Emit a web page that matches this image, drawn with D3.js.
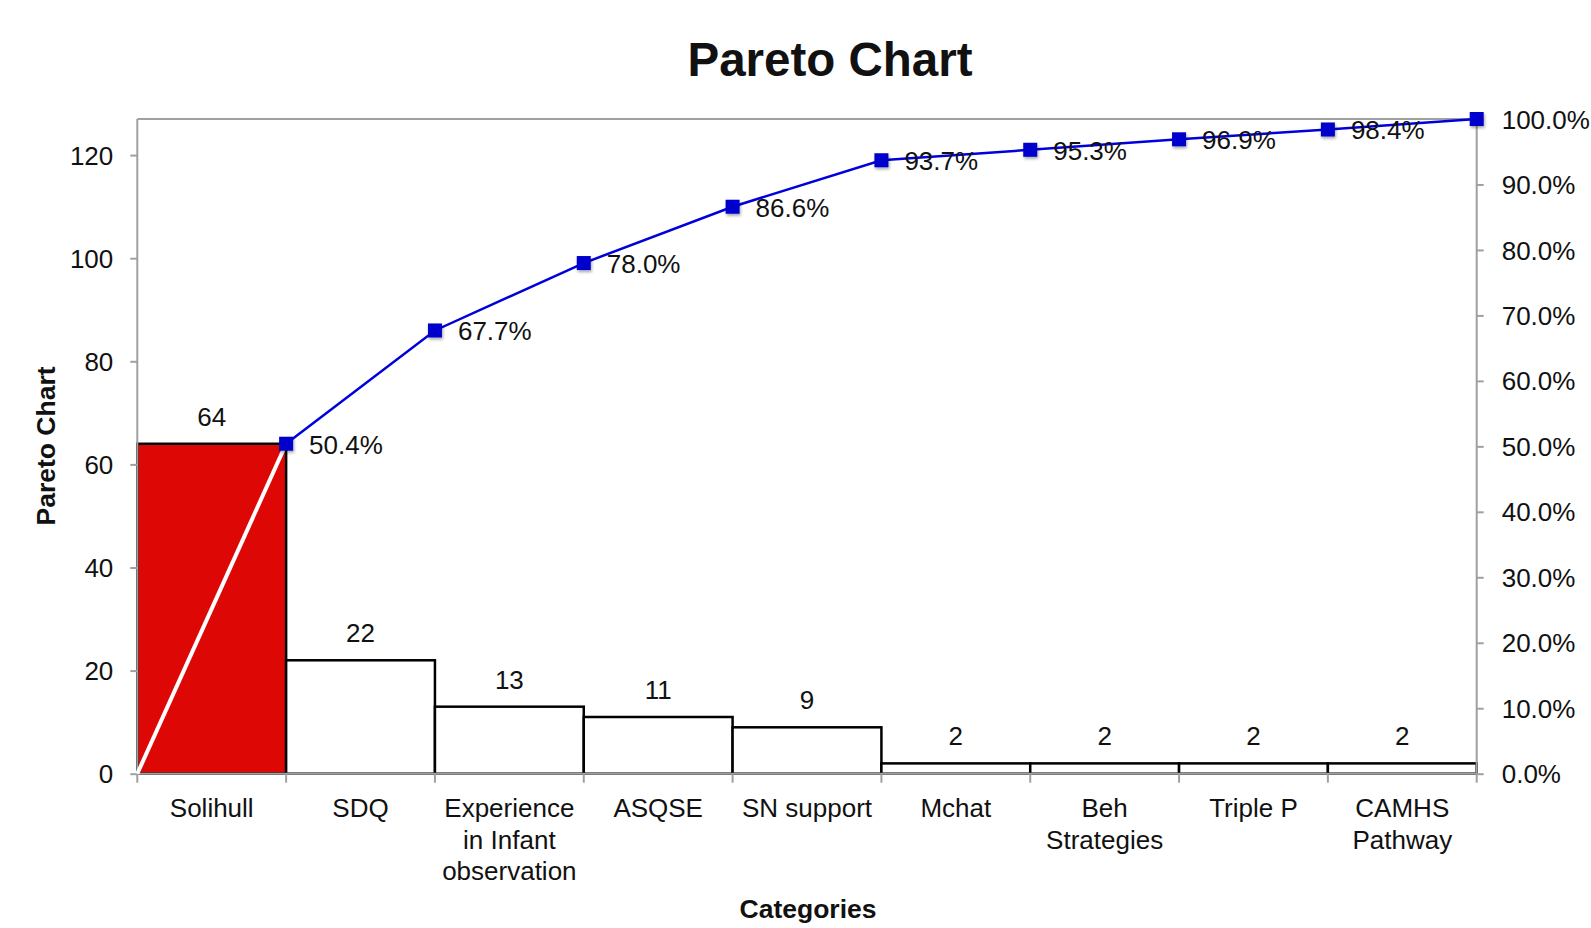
<!DOCTYPE html>
<html>
<head>
<meta charset="utf-8">
<script src="https://cdn.jsdelivr.net/npm/d3@7"></script>
<style>
  html, body { margin: 0; padding: 0; background: #fff; }
  svg text { font-family: "Liberation Sans", Arial, Helvetica, sans-serif; fill: #111; }
</style>
</head>
<body>
<svg id="chart" width="1591" height="928"></svg>
<script>
// ---- Data ----
const categories = ["Solihull", "SDQ", "Experience in Infant observation", "ASQSE", "SN support", "Mchat", "Beh Strategies", "Triple P", "CAMHS Pathway"];
const categoryLines = [["Solihull"], ["SDQ"], ["Experience", "in Infant", "observation"], ["ASQSE"], ["SN support"], ["Mchat"], ["Beh", "Strategies"], ["Triple P"], ["CAMHS", "Pathway"]];
const counts = [64, 22, 13, 11, 9, 2, 2, 2, 2];
const cumulativePct = [50.4, 67.7, 78.0, 86.6, 93.7, 95.3, 96.9, 98.4, 100.0];
const leftTicks = [0, 20, 40, 60, 80, 100, 120];
const rightTicks = [0, 10, 20, 30, 40, 50, 60, 70, 80, 90, 100];

// ---- Layout ----
const svg = d3.select("#chart");
const pL = 137.3, pR = 1476.7, pT = 119, pB = 773.7;
const total = d3.sum(counts);
const fs = "26px";

const x = d3.scaleBand().domain(categories).range([pL, pR]).padding(0);
const y = d3.scaleLinear().domain([0, total]).range([pB, pT]);
const y2 = d3.scaleLinear().domain([0, 100]).range([pB, pT]);
const xEdge = d3.scaleLinear().domain([0, categories.length]).range([pL, pR]);

const axisColor = "#a0a0a0";

// drop shadow filter
const defs = svg.append("defs");
const f = defs.append("filter").attr("id", "shadow").attr("x", "-50%").attr("y", "-50%").attr("width", "200%").attr("height", "200%");
f.append("feDropShadow").attr("dx", 1).attr("dy", 2).attr("stdDeviation", 1.5).attr("flood-color", "#000").attr("flood-opacity", 0.35);

// Title
svg.append("text").attr("x", 830).attr("y", 76).attr("text-anchor", "middle")
  .style("font-size", "47.5px").style("font-weight", "bold").text("Pareto Chart");

// Frame top line
svg.append("line").attr("x1", pL).attr("x2", pR).attr("y1", pT).attr("y2", pT)
  .attr("stroke", axisColor).attr("stroke-width", 2);

// Bars
svg.append("g").selectAll("rect").data(counts).join("rect")
  .attr("x", (d, i) => x(categories[i]))
  .attr("y", d => y(d))
  .attr("width", x.bandwidth())
  .attr("height", d => pB - y(d))
  .attr("fill", (d, i) => i === 0 ? "#dd0806" : "#ffffff")
  .attr("stroke", "#000").attr("stroke-width", 2.5);

// Bar value labels
svg.append("g").selectAll("text").data(counts).join("text")
  .attr("x", (d, i) => x(categories[i]) + x.bandwidth() / 2)
  .attr("y", d => y(d) - 18)
  .attr("text-anchor", "middle")
  .style("font-size", fs)
  .text(d => d);

// Left axis
const gL = svg.append("g").attr("transform", `translate(${pL},0)`)
  .call(d3.axisLeft(y).tickValues(leftTicks).tickSize(7).tickPadding(17).tickFormat(d3.format("d")));
gL.select(".domain").remove();
gL.append("line").attr("x1", 0).attr("x2", 0).attr("y1", pT).attr("y2", pB).attr("stroke", axisColor).attr("stroke-width", 2);
gL.selectAll(".tick line").attr("stroke", axisColor).attr("stroke-width", 2);
gL.selectAll(".tick text").style("font-size", fs).style("font-family", "'Liberation Sans', Arial, sans-serif").attr("fill", "#111").attr("dy", "0.35em");

// Right axis
const gR = svg.append("g").attr("transform", `translate(${pR},0)`)
  .call(d3.axisRight(y2).tickValues(rightTicks).tickSize(7).tickPadding(18).tickFormat(d => d.toFixed(1) + "%"));
gR.select(".domain").remove();
gR.append("line").attr("x1", 0).attr("x2", 0).attr("y1", pT).attr("y2", pB).attr("stroke", axisColor).attr("stroke-width", 2);
gR.selectAll(".tick line").attr("stroke", axisColor).attr("stroke-width", 2);
gR.selectAll(".tick text").style("font-size", fs).style("font-family", "'Liberation Sans', Arial, sans-serif").attr("fill", "#111").attr("dy", "0.35em");

// Bottom axis (ticks at category boundaries)
const gB = svg.append("g");
gB.append("line").attr("x1", pL).attr("x2", pR).attr("y1", pB).attr("y2", pB)
  .attr("stroke", axisColor).attr("stroke-width", 2);
gB.selectAll("line.tk").data(d3.range(categories.length + 1)).join("line").attr("class", "tk")
  .attr("x1", i => xEdge(i)).attr("x2", i => xEdge(i))
  .attr("y1", pB).attr("y2", pB + 9)
  .attr("stroke", axisColor).attr("stroke-width", 2);

// Category labels
const catG = svg.append("g").selectAll("text").data(categoryLines).join("text")
  .attr("text-anchor", "middle")
  .style("font-size", fs);
catG.each(function (lines, i) {
  const t = d3.select(this);
  const cx = x(categories[i]) + x.bandwidth() / 2;
  lines.forEach((ln, j) => {
    t.append("tspan").attr("x", cx).attr("y", 817 + j * 31.5).text(ln);
  });
});

// Axis titles
svg.append("text").attr("x", 808).attr("y", 918).attr("text-anchor", "middle")
  .style("font-size", "26.5px").style("font-weight", "bold").text("Categories");
svg.append("text").attr("transform", "translate(55,446) rotate(-90)").attr("text-anchor", "middle")
  .style("font-size", "26.5px").style("font-weight", "bold").text("Pareto Chart");

// Cumulative line
const pts = cumulativePct.map((p, i) => [xEdge(i + 1), y2(p)]);
// white segment inside first bar from origin
svg.append("line").attr("x1", xEdge(0)).attr("y1", y2(0)).attr("x2", pts[0][0]).attr("y2", pts[0][1])
  .attr("stroke", "#ffffff").attr("stroke-width", 4);
svg.append("path").datum(pts)
  .attr("d", d3.line())
  .attr("fill", "none").attr("stroke", "#0000dd").attr("stroke-width", 2.5);

// Markers
svg.append("g").selectAll("rect").data(pts).join("rect")
  .attr("x", d => d[0] - 7).attr("y", d => d[1] - 7)
  .attr("width", 14).attr("height", 14)
  .attr("fill", "#0000cc").attr("filter", "url(#shadow)");

// Percent labels (all but last)
svg.append("g").selectAll("text").data(cumulativePct.slice(0, -1)).join("text")
  .attr("x", (d, i) => pts[i][0] + 23)
  .attr("y", (d, i) => pts[i][1] + 10)
  .style("font-size", fs)
  .text(d => d.toFixed(1) + "%");
</script>
</body>
</html>
